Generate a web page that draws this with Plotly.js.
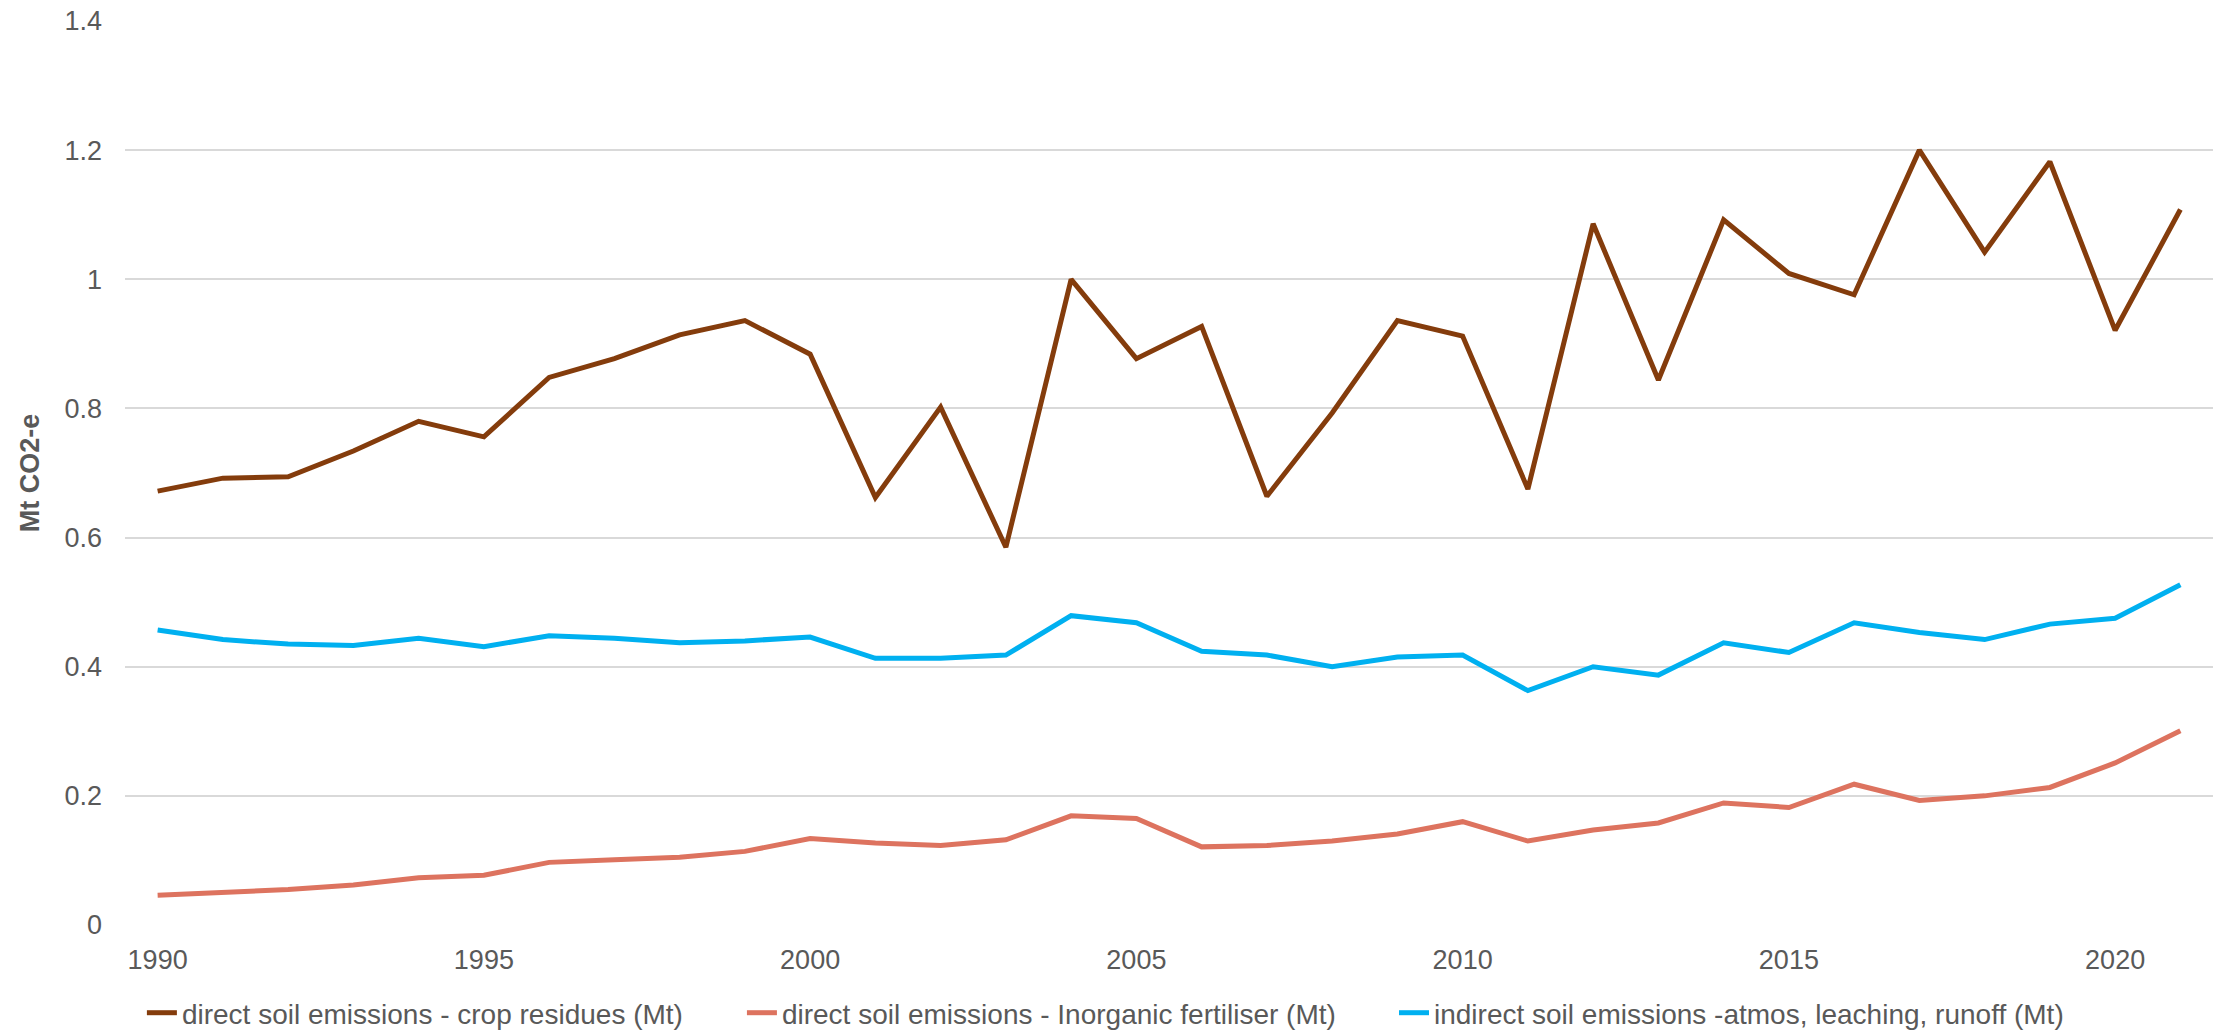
<!DOCTYPE html>
<html>
<head>
<meta charset="utf-8">
<script src="https://cdn.plot.ly/plotly-3.0.1.min.js"></script>
<style>
html,body{margin:0;padding:0;background:#fff;}
#chart{width:2224px;height:1032px;}
</style>
</head>
<body>
<div id="chart"></div>
<script>
const years = ['1990','1991','1992','1993','1994','1995','1996','1997','1998','1999','2000','2001','2002','2003','2004','2005','2006','2007','2008','2009','2010','2011','2012','2013','2014','2015','2016','2017','2018','2019','2020','2021'];
const cropResidues = [0.672,0.692,0.694,0.734,0.780,0.756,0.848,0.877,0.914,0.936,0.884,0.662,0.802,0.585,1.000,0.877,0.927,0.664,0.793,0.936,0.912,0.675,1.086,0.844,1.092,1.009,0.976,1.200,1.042,1.182,0.921,1.108];
const inorganicFertiliser = [0.046,0.050,0.055,0.062,0.073,0.077,0.097,0.101,0.105,0.114,0.134,0.127,0.123,0.132,0.169,0.165,0.121,0.123,0.130,0.141,0.160,0.130,0.147,0.158,0.189,0.182,0.218,0.193,0.200,0.213,0.251,0.301];
const indirectEmissions = [0.457,0.442,0.435,0.433,0.444,0.431,0.448,0.444,0.437,0.440,0.446,0.413,0.413,0.418,0.479,0.468,0.424,0.418,0.400,0.415,0.418,0.363,0.400,0.387,0.437,0.422,0.468,0.453,0.442,0.466,0.475,0.527];
const seriesNames = ['direct soil emissions - crop residues (Mt)','direct soil emissions - Inorganic fertiliser (Mt)','indirect soil emissions -atmos, leaching, runoff (Mt)'];
const xTicks = ['1990','1995','2000','2005','2010','2015','2020'];
const yTicks = [0,0.2,0.4,0.6,0.8,1,1.2,1.4];
const yTickText = ['0','0.2','0.4','0.6','0.8','1','1.2','1.4'];

const font = 'Liberation Sans, Arial, sans-serif';
const traces = [
  {x: years, y: cropResidues, name: seriesNames[0], legend: 'legend', type: 'scatter', mode: 'lines', line: {color: '#843C0C', width: 5}},
  {x: years, y: inorganicFertiliser, name: seriesNames[1], legend: 'legend2', type: 'scatter', mode: 'lines', line: {color: '#DD735F', width: 5}},
  {x: years, y: indirectEmissions, name: seriesNames[2], legend: 'legend3', type: 'scatter', mode: 'lines', line: {color: '#00B0F0', width: 5}}
];
function legendAt(x) {
  return {orientation: 'h', xref: 'container', yref: 'container', x: x, xanchor: 'left', y: 0.0184, yanchor: 'middle',
    font: {size: 28, color: '#595959'}, itemwidth: 30, bgcolor: 'rgba(0,0,0,0)'};
}
const layout = {
  width: 2224, height: 1032,
  margin: {l: 125, r: 11, t: 21, b: 107, autoexpand: false},
  paper_bgcolor: '#fff', plot_bgcolor: '#fff',
  font: {family: font, color: '#595959', size: 27},
  showlegend: true,
  legend: legendAt(0.0638),
  legend2: legendAt(0.3336),
  legend3: legendAt(0.6268),
  xaxis: {type: 'category', range: [-0.5, 31.5], tickmode: 'array', tickvals: xTicks, ticktext: xTicks, showgrid: false, zeroline: false, showline: false, ticks: '', tickfont: {size: 27, color: '#595959'}, ticklabelstandoff: 16, fixedrange: true},
  yaxis: {range: [0, 1.4], tickmode: 'array', tickvals: yTicks, ticktext: yTickText, showgrid: true, gridcolor: '#D9D9D9', gridwidth: 2, zeroline: false, showline: false, ticks: '', tickfont: {size: 27, color: '#595959'}, ticklabelstandoff: 22,
    title: {text: '<b>Mt CO2-e</b>', font: {size: 27, color: '#595959'}, standoff: 17}, fixedrange: true}
};
Plotly.newPlot('chart', traces, layout, {displayModeBar: false, staticPlot: true});
</script>
</body>
</html>
